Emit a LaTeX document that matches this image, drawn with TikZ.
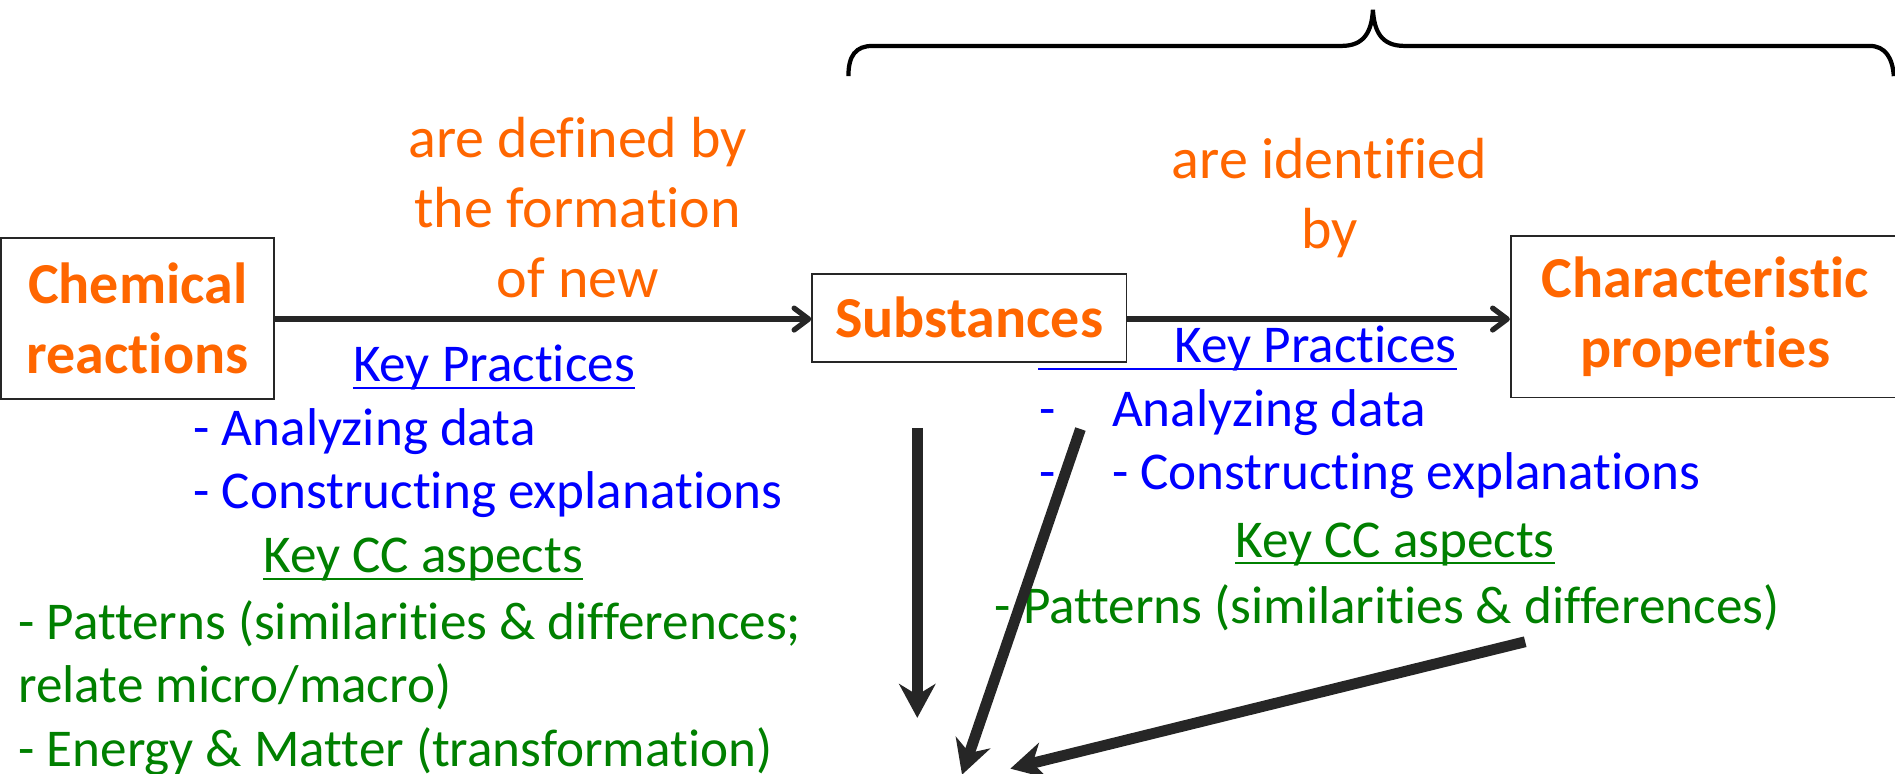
\documentclass[tikz,border=0pt]{standalone}
\usepackage{fontspec}
\setmainfont{Carlito}[RawFeature={-liga;-dlig;-clig;-calt;-rlig}]
\usetikzlibrary{arrows.meta}
\definecolor{orng}{RGB}{255,102,0}
\definecolor{bluet}{RGB}{0,0,255}
\definecolor{greent}{RGB}{0,128,0}
\definecolor{arr}{RGB}{38,38,38}
\begin{document}
\begin{tikzpicture}[x=1pt,y=-1pt,
  boxn/.style={draw=arr, line width=1.4pt, inner sep=0pt, align=center, text=orng,
     font=\fontsize{48}{58}\selectfont\bfseries},
  lbl/.style={inner sep=0pt, anchor=base, text=orng, font=\fontsize{48}{58}\selectfont},
  bt/.style={inner sep=0pt, anchor=base west, text=bluet, font=\fontsize{44}{53}\selectfont},
  gt/.style={inner sep=0pt, anchor=base west, text=greent, font=\fontsize{44}{53}\selectfont},
  harrow/.style={draw=arr, line width=4.4pt, -{Straight Barb[length=12pt,width=18pt,line cap=round,line join=round]}},
  bigarrow/.style={draw=arr, line width=9pt, -{Stealth[length=28pt,width=30pt,inset=9pt]}},
  ul/.style={line width=1.8pt}
]
\useasboundingbox (0,0) rectangle (1568,640);

% boxes
\node[boxn, minimum width=226pt, minimum height=133pt] (chem) at (114,263.5) {Chemical\\reactions};
\node[boxn, minimum width=260pt, minimum height=73pt] (sub) at (802,263) {Substances};
\node[boxn, minimum width=322pt, minimum height=134pt] (char) at (1411,262) {Characteristic\\properties};

% horizontal arrows
\draw[harrow] (chem.east |- 0,264) -- (sub.west |- 0,264);
\draw[harrow] (sub.east |- 0,264) -- (char.west |- 0,264);

% orange labels
\node[lbl] (l1) at (478,130) {are defined by};
\node[lbl] (l2) at (478,188) {the formation};
\node[lbl] (l3) at (478,246) {of new};
\node[lbl] (r1) at (1100,148) {are identified};
\node[lbl] (r2) at (1100,206) {by};

% brace
\draw[line width=3.5pt, black] (702,63) .. controls (702,46) and (708,38) .. (722,38) -- (1110,38)
  .. controls (1129,38) and (1135,26) .. (1136,8)
  .. controls (1137,26) and (1143,38) .. (1162,38) -- (1547,38)
  .. controls (1560,38) and (1566,48) .. (1567,63);

% left block
\node[bt] (kpL) at (292,316) {Key Practices};
\draw[ul, bluet] ([yshift=-5pt]kpL.base west) -- ([yshift=-5pt]kpL.base east);
\node[bt] (adL) at (160,369) {- Analyzing data};
\node[bt] (ceL) at (160,421) {- Constructing explanations};
\node[gt] (kcL) at (218,474) {Key CC aspects};
\draw[ul, greent] ([yshift=-5pt]kcL.base west) -- ([yshift=-5pt]kcL.base east);
\node[gt] (p1L) at (15,529) {- Patterns (similarities \& differences;};
\node[gt] (p2L) at (15,581) {relate micro/macro)};
\node[gt] (emL) at (15,634) {- Energy \& Matter (transformation)};

% right block
\node[bt] (kpR) at (972,300) {Key Practices};
\coordinate (ulR) at (859,300);
\draw[ul, bluet] ([yshift=-5pt]ulR) -- ([yshift=-5pt]kpR.base east);
\node[bt] (d1R) at (860,353) {-};
\node[bt] (adR) at (920,353) {Analyzing data};
\node[bt] (d2R) at (860,405) {-};
\node[bt] (ceR) at (920,405) {- Constructing explanations};
\node[gt] (kcR) at (1022,461) {Key CC aspects};
\draw[ul, greent] ([yshift=-5pt]kcR.base west) -- ([yshift=-5pt]kcR.base east);
\node[gt] (pR) at (823,516) {- Patterns (similarities \& differences)};

% big arrows
\coordinate (a1s) at (759,354);
\coordinate (a1e) at (759,594);
\coordinate (a2s) at (894,355);
\coordinate (a2e) at (796,641);
\coordinate (a3s) at (1262,531);
\coordinate (a3e) at (836,636);
\draw[bigarrow] (a1s) -- (a1e);
\draw[bigarrow] (a2s) -- (a2e);
\draw[bigarrow] (a3s) -- (a3e);
\end{tikzpicture}
\end{document}
